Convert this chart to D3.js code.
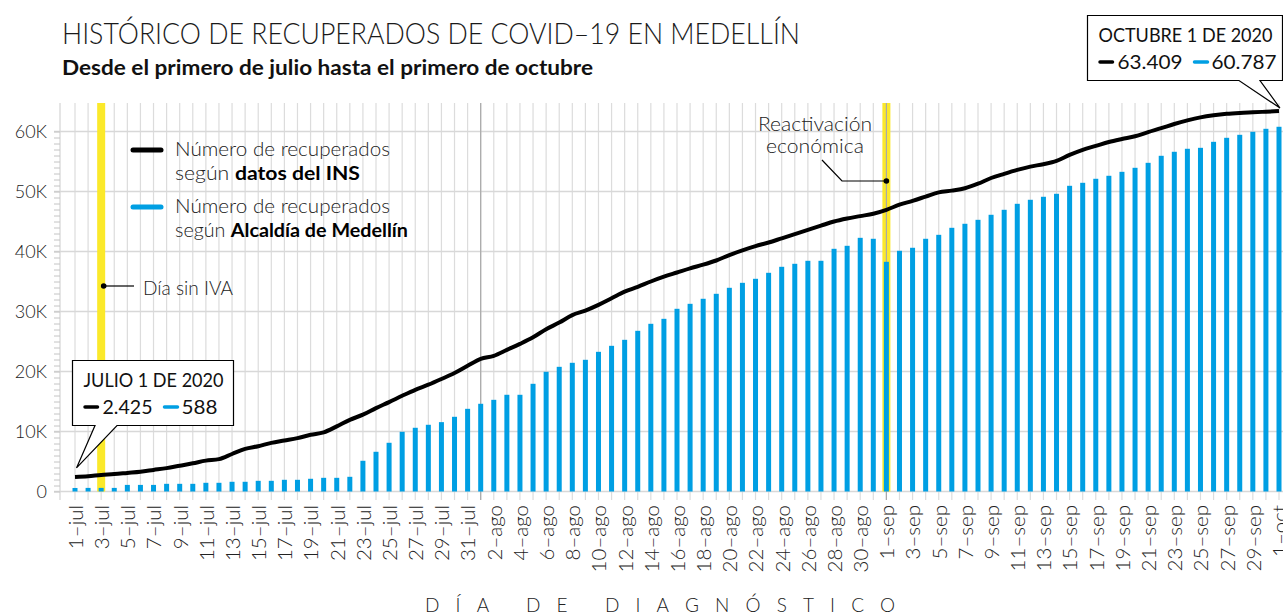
<!DOCTYPE html>
<html lang="es">
<head>
<meta charset="UTF-8">
<title>recuperados medellin</title>
<script src="https://cdn.jsdelivr.net/npm/d3@7"></script>
<style>
  body { margin: 0; background: #fff; }
  text { font-family: Lato, "Open Sans", sans-serif; }
</style>
</head>
<body>
<svg width="1283" height="615"></svg>
<script>
  // dias (categorias del eje x)
  var fechas = [
    '1–jul','2–jul','3–jul','4–jul','5–jul','6–jul','7–jul','8–jul','9–jul','10–jul','11–jul','12–jul','13–jul','14–jul','15–jul','16–jul',
    '17–jul','18–jul','19–jul','20–jul','21–jul','22–jul','23–jul','24–jul','25–jul','26–jul','27–jul','28–jul','29–jul','30–jul','31–jul',
    '1–ago','2–ago','3–ago','4–ago','5–ago','6–ago','7–ago','8–ago','9–ago','10–ago','11–ago','12–ago','13–ago','14–ago','15–ago','16–ago',
    '17–ago','18–ago','19–ago','20–ago','21–ago','22–ago','23–ago','24–ago','25–ago','26–ago','27–ago','28–ago','29–ago','30–ago','31–ago',
    '1–sep','2–sep','3–sep','4–sep','5–sep','6–sep','7–sep','8–sep','9–sep','10–sep','11–sep','12–sep','13–sep','14–sep','15–sep',
    '16–sep','17–sep','18–sep','19–sep','20–sep','21–sep','22–sep','23–sep','24–sep','25–sep','26–sep','27–sep','28–sep','29–sep','30–sep',
    '1–oct'
  ]

  // recuperados segun datos del INS (linea)
  var ins = [
    2425, 2550, 2750, 2900, 3100, 3300, 3600, 3900, 4300, 4700, 5150, 5400, 6250, 7100, 7550, 8100,
    8500, 8900, 9450, 9850, 10850, 11950, 12800, 13900, 14900, 15950, 16950, 17800, 18750, 19750, 20950,
    22100, 22600, 23600, 24600, 25700, 27050, 28150, 29400, 30150, 31100, 32200, 33300, 34100, 35000, 35800, 36500,
    37200, 37800, 38500, 39400, 40200, 40900, 41500, 42200, 42900, 43600, 44300, 45000, 45500, 45900, 46300,
    46950, 47800, 48450, 49150, 49850, 50150, 50550, 51300, 52250, 52950, 53600, 54150, 54550, 55100, 56100,
    56950, 57600, 58250, 58750, 59200, 59900, 60550, 61250, 61850, 62350, 62700, 62950, 63100, 63200, 63300,
    63409
  ]

  // recuperados segun Alcaldia de Medellin (barras)
  var alcaldia = [
    588, 600, 600, 600, 1100, 1100, 1100, 1280, 1280, 1280, 1450, 1450, 1620, 1620, 1780, 1780,
    1950, 1950, 2120, 2280, 2280, 2450, 5120, 6620, 8120, 9950, 10620, 11120, 11560, 12450, 13780,
    14620, 15280, 16120, 16120, 17950, 19950, 20780, 21450, 21950, 23280, 24280, 25280, 26780, 27950, 28780, 30450,
    31280, 32120, 32950, 33950, 34780, 35450, 36450, 37450, 37950, 38450, 38450, 40450, 40950, 42280, 42120,
    38280, 40120, 40620, 42120, 42780, 43950, 44620, 45280, 46120, 46950, 47950, 48620, 49120, 49620, 50950,
    51450, 52120, 52620, 53280, 53950, 54780, 55950, 56620, 57120, 57280, 58280, 58950, 59450, 59950, 60450,
    60787
  ]

  var yTicks = [0, 10000, 20000, 30000, 40000, 50000, 60000]
  var yLabels = ['0', '10K', '20K', '30K', '40K', '50K', '60K']
  var inicioMes = ['1–ago', '1–sep']
  var diaSinIva = '3–jul'
  var reactivacion = '1–sep'

  var azul = '#009fe3'
  var amarillo = '#fbe92a'

  var svg = d3.select('svg')
  var plotTop = 103, plotBottom = 491.5

  var x = d3.scalePoint().domain(fechas).range([75, 1279])
  var y = d3.scaleLinear().domain([0, 60000]).range([plotBottom, 131.5])

  // lineas verticales por dia
  svg.append('g')
    .selectAll('line')
    .data(fechas)
    .enter()
    .append('line')
    .attr('x1', d => x(d)).attr('x2', d => x(d))
    .attr('y1', plotTop).attr('y2', 500)
    .attr('stroke', '#dcdcdc')
    .attr('stroke-width', 1.2)

  // eje vertical
  svg.append('line')
    .attr('x1', 60).attr('x2', 60)
    .attr('y1', plotTop).attr('y2', 500)
    .attr('stroke', '#d4d4d4').attr('stroke-width', 1.2)

  // lineas horizontales
  svg.append('g')
    .selectAll('line')
    .data(yTicks)
    .enter()
    .append('line')
    .attr('x1', 54).attr('x2', 1283)
    .attr('y1', d => y(d)).attr('y2', d => y(d))
    .attr('stroke', '#d8d8d8')
    .attr('stroke-width', 1.5)

  // ticks menores cada 1K
  var minor = svg.append('g')
    .attr('transform', 'translate(60,0)')
    .call(d3.axisLeft(y).ticks(60).tickSize(6).tickFormat(''))
  minor.select('.domain').remove()
  minor.selectAll('line').attr('stroke', '#c4c4c4')

  // franjas amarillas
  svg.append('g')
    .selectAll('rect')
    .data([diaSinIva, reactivacion])
    .enter()
    .append('rect')
    .attr('x', d => x(d) - 4)
    .attr('width', 8)
    .attr('y', plotTop)
    .attr('height', plotBottom - plotTop)
    .attr('fill', amarillo)

  // inicio de mes
  svg.append('g')
    .selectAll('line')
    .data(inicioMes)
    .enter()
    .append('line')
    .attr('x1', d => x(d)).attr('x2', d => x(d))
    .attr('y1', plotTop).attr('y2', 500)
    .attr('stroke', '#a8a8a8')
    .attr('stroke-width', 1.2)

  // barras
  svg.append('g')
    .selectAll('rect')
    .data(alcaldia)
    .enter()
    .append('rect')
    .attr('x', (d, i) => x(fechas[i]) - 2.5)
    .attr('width', 5)
    .attr('y', d => y(d))
    .attr('height', d => plotBottom - y(d))
    .attr('fill', azul)

  // linea INS
  var linea = d3.line()
    .x((d, i) => x(fechas[i]))
    .y(d => y(d))
    .curve(d3.curveMonotoneX)

  svg.append('path')
    .attr('d', linea(ins))
    .attr('fill', 'none')
    .attr('stroke', '#000')
    .attr('stroke-width', 4)
    .attr('stroke-linejoin', 'round')

  // eje x
  var pares = fechas.filter((d, i) => i % 2 === 0)
  var ejeX = svg.append('g')
    .attr('transform', 'translate(0,505)')
    .call(d3.axisBottom(x).tickValues(pares).tickSize(0).tickPadding(0))
  ejeX.select('.domain').remove()
  ejeX.selectAll('text')
    .attr('transform', 'rotate(-90)')
    .attr('text-anchor', 'end')
    .attr('x', 0).attr('y', 0)
    .attr('dy', '0.36em')
    .attr('font-size', 20.5)
    .attr('font-weight', 300)
    .attr('font-family', 'Lato, sans-serif')
    .attr('fill', '#222')

  // etiquetas eje y
  svg.append('g')
    .selectAll('text')
    .data(yTicks)
    .enter()
    .append('text')
    .attr('x', 47)
    .attr('y', d => y(d))
    .attr('dy', '0.36em')
    .attr('text-anchor', 'end')
    .attr('font-size', 18)
    .attr('font-weight', 300)
    .attr('fill', '#222')
    .text((d, i) => yLabels[i])

  // titulo eje x
  svg.append('text')
    .attr('x', 425).attr('y', 612)
    .attr('font-size', 19)
    .attr('font-weight', 300)
    .attr('fill', '#222')
    .attr('textLength', 470)
    .attr('lengthAdjust', 'spacing')
    .text('DÍA DE DIAGNÓSTICO')

  // titulos
  svg.append('text')
    .attr('x', 62).attr('y', 44)
    .attr('font-size', 29)
    .attr('font-weight', 300)
    .attr('fill', '#1a1a1a')
    .attr('textLength', 738)
    .attr('lengthAdjust', 'spacingAndGlyphs')
    .text('HISTÓRICO DE RECUPERADOS DE COVID–19 EN MEDELLÍN')

  svg.append('text')
    .attr('x', 62).attr('y', 75)
    .attr('font-size', 20)
    .attr('font-weight', 700)
    .attr('fill', '#111')
    .attr('textLength', 531)
    .attr('lengthAdjust', 'spacingAndGlyphs')
    .text('Desde el primero de julio hasta el primero de octubre')

  // leyenda
  var leyenda = [
    { color: '#000', y: 150, l1: 'Número de recuperados', l2: 'datos del INS', w2: 185 },
    { color: azul, y: 207, l1: 'Número de recuperados', l2: 'Alcaldía de Medellín', w2: 233 }
  ]
  var lg = svg.append('g').selectAll('g')
    .data(leyenda).enter().append('g')
  lg.append('line')
    .attr('x1', 133).attr('x2', 161)
    .attr('y1', d => d.y).attr('y2', d => d.y)
    .attr('stroke', d => d.color)
    .attr('stroke-width', 5)
    .attr('stroke-linecap', 'round')
  lg.append('text')
    .attr('x', 175).attr('y', d => d.y + 6)
    .attr('font-size', 19.5).attr('font-weight', 300).attr('fill', '#222')
    .attr('textLength', 215).attr('lengthAdjust', 'spacingAndGlyphs')
    .text(d => d.l1)
  var t2 = lg.append('text')
    .attr('x', 175).attr('y', d => d.y + 30)
    .attr('font-size', 19.5).attr('fill', '#222')
    .attr('textLength', d => d.w2).attr('lengthAdjust', 'spacingAndGlyphs')
  t2.append('tspan').attr('font-weight', 300).text('según ')
  t2.append('tspan').attr('font-weight', 700).attr('fill', '#000').text(d => d.l2)

  // anotacion dia sin IVA
  var xi = x(diaSinIva)
  svg.append('line')
    .attr('x1', xi + 2).attr('x2', 134)
    .attr('y1', 286).attr('y2', 286)
    .attr('stroke', '#000').attr('stroke-width', 1.2)
  svg.append('circle').attr('cx', xi + 2.5).attr('cy', 286).attr('r', 2.8).attr('fill', '#000')
  svg.append('text')
    .attr('x', 143).attr('y', 295)
    .attr('font-size', 19.5).attr('font-weight', 300).attr('fill', '#222')
    .attr('textLength', 90).attr('lengthAdjust', 'spacingAndGlyphs')
    .text('Día sin IVA')

  // anotacion reactivacion
  var xr = x(reactivacion)
  svg.append('path')
    .attr('d', `M822,160 L842,181 H${xr}`)
    .attr('fill', 'none').attr('stroke', '#000').attr('stroke-width', 1.2)
  svg.append('circle').attr('cx', xr).attr('cy', 181).attr('r', 2.8).attr('fill', '#000')
  svg.append('text')
    .attr('x', 815).attr('y', 131)
    .attr('text-anchor', 'middle')
    .attr('font-size', 19).attr('font-weight', 300).attr('fill', '#222')
    .attr('textLength', 114).attr('lengthAdjust', 'spacingAndGlyphs')
    .text('Reactivación')
  svg.append('text')
    .attr('x', 815).attr('y', 153)
    .attr('text-anchor', 'middle')
    .attr('font-size', 19).attr('font-weight', 300).attr('fill', '#222')
    .attr('textLength', 98).attr('lengthAdjust', 'spacingAndGlyphs')
    .text('económica')

  // cuadros de dato
  // caja: x, y, ancho, alto; cola: de a hasta b en el borde inferior, punta en (px, py)
  function cuadro(caja, a, b, px, py, titulo, vIns, vAlc, w1, wn) {
    var bx = caja[0], by = caja[1], bw = caja[2], bh = caja[3]
    svg.append('path')
      .attr('d', `M${bx},${by} H${bx + bw} V${by + bh} H${b} L${px},${py} L${a},${by + bh} H${bx} Z`)
      .attr('fill', '#fff').attr('stroke', '#000').attr('stroke-width', 1.2)
      .attr('stroke-linejoin', 'miter')
    svg.append('text')
      .attr('x', bx + 11).attr('y', by + 26)
      .attr('font-size', 19).attr('font-weight', 400).attr('fill', '#111')
      .attr('textLength', w1).attr('lengthAdjust', 'spacingAndGlyphs')
      .text(titulo)
    var g = svg.append('g').attr('transform', `translate(${bx + 11},${by + 53})`)
    g.append('line').attr('x1', 1.5).attr('x2', 14).attr('y1', -6.5).attr('y2', -6.5)
      .attr('stroke', '#000').attr('stroke-width', 3.5).attr('stroke-linecap', 'round')
    var n1 = d3.format(',')(vIns).replace(/,/g, '.')
    var n2 = d3.format(',')(vAlc).replace(/,/g, '.')
    g.append('text').attr('x', 19).attr('font-size', 20).attr('font-weight', 400).attr('fill', '#111')
      .attr('textLength', wn[0]).attr('lengthAdjust', 'spacingAndGlyphs').text(n1)
    var xb = 19 + wn[0] + 12
    g.append('line').attr('x1', xb).attr('x2', xb + 13).attr('y1', -6.5).attr('y2', -6.5)
      .attr('stroke', azul).attr('stroke-width', 3.5).attr('stroke-linecap', 'round')
    g.append('text').attr('x', xb + 17).attr('font-size', 20).attr('font-weight', 400).attr('fill', '#111')
      .attr('textLength', wn[1]).attr('lengthAdjust', 'spacingAndGlyphs').text(n2)
  }

  var ultimo = fechas.length - 1
  cuadro([72.5, 360.5, 161, 65], 95, 117, x(fechas[0]) + 1.5, y(ins[0]) - 9,
    'JULIO 1 DE 2020', ins[0], alcaldia[0], 140, [50, 36])
  cuadro([1087.5, 15.5, 195, 65], 1239, 1260, x(fechas[ultimo]) + 1, y(ins[ultimo]) - 3,
    'OCTUBRE 1 DE 2020', ins[ultimo], alcaldia[ultimo], 174, [65, 65])
</script>
</body>
</html>
